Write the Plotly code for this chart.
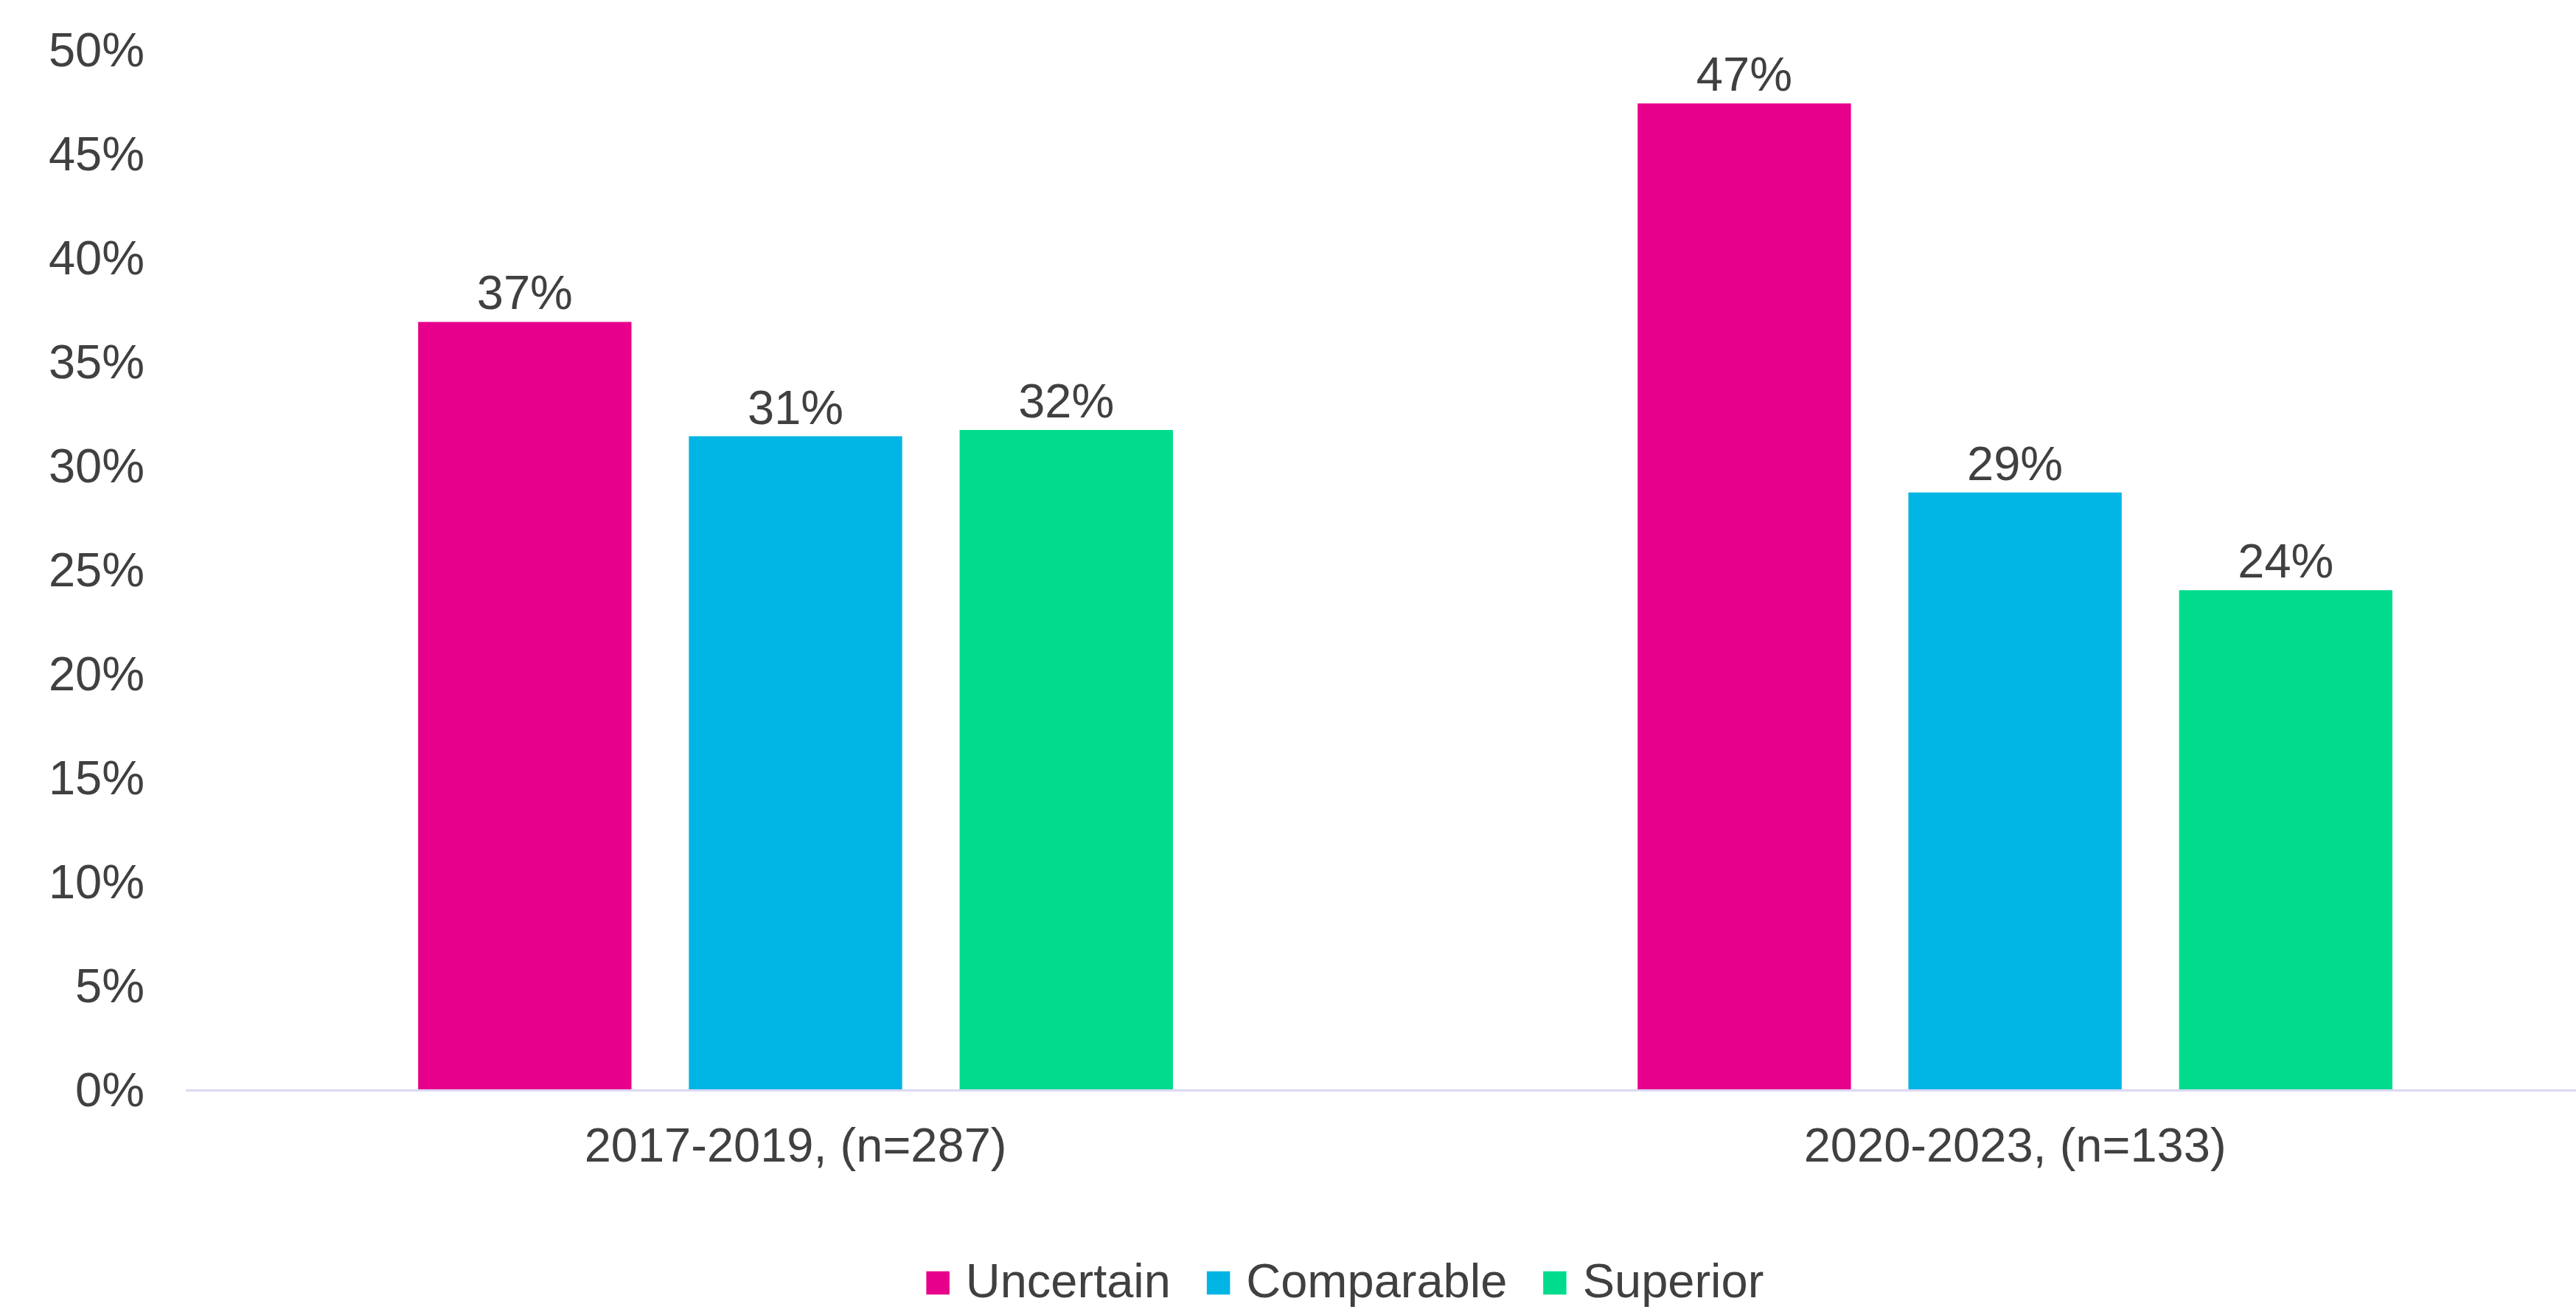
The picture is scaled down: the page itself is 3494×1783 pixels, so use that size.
import plotly.graph_objects as go

categories = ["2017-2019, (n=287)", "2020-2023, (n=133)"]
series_names = ["Uncertain", "Comparable", "Superior"]
uncertain = [0.369, 0.474]
comparable = [0.314, 0.287]
superior = [0.317, 0.240]
y_ticks = [0, 0.05, 0.10, 0.15, 0.20, 0.25, 0.30, 0.35, 0.40, 0.45, 0.50]

colors = ["#E6008C", "#00B5E4", "#00DC8C"]
series_values = [uncertain, comparable, superior]

FONT = "Liberation Sans, Arial, sans-serif"
TXT = "#404040"
FS = 65

fig = go.Figure()
for name, vals, col in zip(series_names, series_values, colors):
    fig.add_trace(go.Bar(
        x=categories, y=vals, name=name,
        marker=dict(color=col, line=dict(width=0)),
        texttemplate="%{y:.0%}", textposition="outside",
        textfont=dict(family=FONT, size=FS, color=TXT),
        cliponaxis=False, showlegend=False,
    ))
# legend entries: coloured square glyph + label
for name, col in zip(series_names, colors):
    fig.add_trace(go.Scatter(
        x=[None], y=[None], mode="markers",
        name=f'<span style="color:{col}">■</span> {name}',
        marker=dict(symbol="square", size=1, color="rgba(0,0,0,0)"),
        showlegend=True,
    ))

fig.update_layout(
    width=3494, height=1783,
    margin=dict(l=252, r=0, t=67, b=306, autoexpand=False),
    paper_bgcolor="white", plot_bgcolor="white",
    barmode="group", bargap=0.334, bargroupgap=0.212,
    font=dict(family=FONT, size=FS, color=TXT),
    legend=dict(orientation="h", x=0.479, xanchor="center", y=-0.217, yanchor="bottom",
                font=dict(family=FONT, size=FS, color=TXT), itemwidth=30),
)
fig.update_xaxes(
    range=[-0.5, 1.46], showgrid=False, showline=True, linecolor="#DCD8F4", linewidth=3,
    ticks="", ticklabelstandoff=17, tickfont=dict(family=FONT, size=FS, color=TXT),
    zeroline=False,
)
fig.update_yaxes(
    range=[0, 0.5], tickvals=y_ticks, tickformat=".0%", showgrid=False, showline=False,
    zeroline=False, ticks="", ticklabelstandoff=55,
    tickfont=dict(family=FONT, size=FS, color=TXT),
)

fig.write_html("out.html")
